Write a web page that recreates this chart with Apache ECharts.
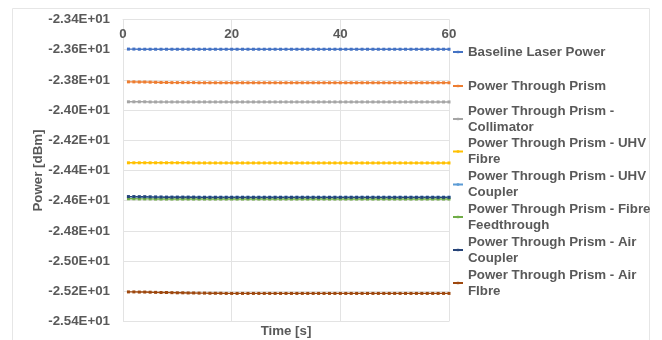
<!DOCTYPE html>
<html>
<head>
<meta charset="utf-8">
<script src="https://cdn.jsdelivr.net/npm/echarts@6/dist/echarts.min.js"></script>
<style>
  html, body { margin: 0; padding: 0; background: #ffffff; }
  #chart { width: 662px; height: 340px; }
</style>
</head>
<body>
<div id="chart"></div>
<script>
// ---- data ----
const timeSec = [1,2,3,4,5,6,7,8,9,10,11,12,13,14,15,16,17,18,19,20,
  21,22,23,24,25,26,27,28,29,30,31,32,33,34,35,36,37,38,39,40,
  41,42,43,44,45,46,47,48,49,50,51,52,53,54,55,56,57,58,59,60];

const seriesNames = [
  'Baseline Laser Power',
  'Power Through Prism',
  'Power Through Prism - Collimator',
  'Power Through Prism - UHV Fibre',
  'Power Through Prism - UHV Coupler',
  'Power Through Prism - Fibre Feedthrough',
  'Power Through Prism - Air Coupler',
  'Power Through Prism - Air FIbre'
];

const legendLines = [
  'Baseline Laser Power',
  'Power Through Prism',
  'Power Through Prism -\nCollimator',
  'Power Through Prism - UHV\nFibre',
  'Power Through Prism - UHV\nCoupler',
  'Power Through Prism - Fibre\nFeedthrough',
  'Power Through Prism - Air\nCoupler',
  'Power Through Prism - Air\nFIbre'
];

const baselinePower = [-23.596,-23.596,-23.597,-23.597,-23.597,-23.597,-23.597,-23.597,-23.597,-23.597,
  -23.597,-23.597,-23.597,-23.597,-23.597,-23.597,-23.597,-23.597,-23.597,-23.597,
  -23.597,-23.597,-23.597,-23.597,-23.597,-23.597,-23.597,-23.597,-23.597,-23.597,
  -23.597,-23.597,-23.597,-23.597,-23.597,-23.597,-23.597,-23.597,-23.597,-23.597,
  -23.597,-23.597,-23.597,-23.597,-23.597,-23.597,-23.597,-23.597,-23.597,-23.597,
  -23.597,-23.597,-23.597,-23.597,-23.597,-23.597,-23.597,-23.597,-23.597,-23.597];

const prismPower = [-23.813,-23.813,-23.814,-23.814,-23.815,-23.816,-23.817,-23.817,-23.818,-23.818,
  -23.818,-23.818,-23.818,-23.819,-23.819,-23.819,-23.819,-23.819,-23.819,-23.819,
  -23.819,-23.819,-23.819,-23.819,-23.819,-23.819,-23.819,-23.819,-23.819,-23.819,
  -23.819,-23.819,-23.819,-23.819,-23.819,-23.819,-23.819,-23.819,-23.819,-23.819,
  -23.819,-23.819,-23.819,-23.819,-23.819,-23.819,-23.819,-23.819,-23.819,-23.819,
  -23.819,-23.819,-23.819,-23.819,-23.819,-23.819,-23.819,-23.819,-23.819,-23.819];

const collimatorPower = [-23.945,-23.945,-23.945,-23.945,-23.946,-23.946,-23.946,-23.946,-23.946,-23.946,
  -23.946,-23.946,-23.946,-23.946,-23.946,-23.946,-23.946,-23.946,-23.946,-23.946,
  -23.946,-23.946,-23.946,-23.946,-23.946,-23.946,-23.946,-23.946,-23.946,-23.946,
  -23.946,-23.946,-23.946,-23.946,-23.946,-23.946,-23.946,-23.946,-23.946,-23.946,
  -23.946,-23.946,-23.946,-23.946,-23.946,-23.946,-23.946,-23.946,-23.946,-23.946,
  -23.946,-23.946,-23.946,-23.946,-23.946,-23.946,-23.946,-23.946,-23.946,-23.946];

const uhvFibrePower = [-24.349,-24.349,-24.349,-24.349,-24.349,-24.349,-24.349,-24.349,-24.349,-24.349,
  -24.349,-24.349,-24.350,-24.350,-24.350,-24.350,-24.350,-24.350,-24.350,-24.350,
  -24.350,-24.350,-24.350,-24.350,-24.350,-24.350,-24.350,-24.350,-24.350,-24.350,
  -24.350,-24.350,-24.350,-24.350,-24.350,-24.350,-24.350,-24.350,-24.350,-24.350,
  -24.350,-24.350,-24.350,-24.350,-24.350,-24.350,-24.350,-24.350,-24.350,-24.350,
  -24.350,-24.350,-24.350,-24.350,-24.350,-24.350,-24.350,-24.350,-24.350,-24.350];

const uhvCouplerPower = [-24.574,-24.574,-24.575,-24.575,-24.576,-24.576,-24.577,-24.577,-24.577,-24.577,
  -24.577,-24.577,-24.577,-24.577,-24.577,-24.577,-24.577,-24.577,-24.577,-24.577,
  -24.577,-24.577,-24.577,-24.577,-24.577,-24.577,-24.577,-24.577,-24.577,-24.577,
  -24.577,-24.577,-24.577,-24.577,-24.577,-24.577,-24.577,-24.577,-24.577,-24.577,
  -24.577,-24.577,-24.577,-24.577,-24.577,-24.577,-24.577,-24.577,-24.577,-24.577,
  -24.577,-24.577,-24.577,-24.577,-24.577,-24.577,-24.577,-24.577,-24.577,-24.577];

const feedthroughPower = [-24.587,-24.587,-24.588,-24.588,-24.588,-24.589,-24.589,-24.589,-24.589,-24.589,
  -24.589,-24.589,-24.589,-24.589,-24.589,-24.589,-24.589,-24.589,-24.589,-24.589,
  -24.589,-24.589,-24.589,-24.589,-24.589,-24.589,-24.589,-24.589,-24.589,-24.589,
  -24.589,-24.589,-24.589,-24.589,-24.589,-24.589,-24.589,-24.589,-24.589,-24.589,
  -24.589,-24.589,-24.589,-24.589,-24.589,-24.589,-24.589,-24.589,-24.589,-24.589,
  -24.589,-24.589,-24.589,-24.589,-24.589,-24.589,-24.589,-24.589,-24.589,-24.589];

const airCouplerPower = [-24.573,-24.573,-24.574,-24.574,-24.575,-24.576,-24.576,-24.577,-24.577,-24.577,
  -24.577,-24.577,-24.577,-24.578,-24.578,-24.578,-24.578,-24.578,-24.578,-24.578,
  -24.578,-24.578,-24.578,-24.578,-24.578,-24.578,-24.578,-24.578,-24.578,-24.578,
  -24.578,-24.578,-24.578,-24.578,-24.578,-24.578,-24.578,-24.578,-24.578,-24.578,
  -24.578,-24.578,-24.578,-24.578,-24.578,-24.578,-24.578,-24.578,-24.578,-24.578,
  -24.578,-24.578,-24.578,-24.578,-24.578,-24.578,-24.578,-24.578,-24.578,-24.578];

const airFibrePower = [-25.204,-25.204,-25.205,-25.205,-25.206,-25.207,-25.208,-25.208,-25.209,-25.210,
  -25.210,-25.211,-25.211,-25.212,-25.212,-25.213,-25.213,-25.213,-25.214,-25.214,
  -25.214,-25.214,-25.214,-25.214,-25.214,-25.214,-25.214,-25.214,-25.214,-25.214,
  -25.214,-25.214,-25.214,-25.214,-25.214,-25.214,-25.214,-25.214,-25.214,-25.214,
  -25.214,-25.214,-25.214,-25.214,-25.214,-25.214,-25.214,-25.214,-25.214,-25.214,
  -25.214,-25.214,-25.214,-25.214,-25.214,-25.214,-25.214,-25.214,-25.214,-25.214];

const seriesValues = [baselinePower, prismPower, collimatorPower, uhvFibrePower,
  uhvCouplerPower, feedthroughPower, airCouplerPower, airFibrePower];

const seriesColors = ['#4472C4','#ED7D31','#A5A5A5','#FFC000','#5B9BD5','#70AD47','#264478','#9E480E'];

const xTicks = [0, 20, 40, 60];
const yMin = -25.4, yMax = -23.4, yStep = 0.2;

// legend first-line centres (layout)
const legendCenters = [52, 86, 119, 151.5, 184.5, 217, 250, 283];

// ---- build chart ----
const FONT = '"Liberation Sans", Arial, sans-serif';
const TXT = '#595959';
const GRIDC = '#e3e3e3';

const chart = echarts.init(document.getElementById('chart'), null, { renderer: 'canvas' });

const series = seriesNames.map((name, i) => ({
  name: name,
  type: 'line',
  xAxisIndex: 0,
  data: timeSec.map((t, k) => [t, seriesValues[i][k]]),
  symbol: 'rect',
  symbolSize: 3,
  showSymbol: true,
  color: seriesColors[i],
  lineStyle: { width: 1.4, color: seriesColors[i] },
  itemStyle: { color: seriesColors[i] },
  animation: false,
  emphasis: { disabled: true }
}));

const legends = seriesNames.map((name, i) => {
  const twoLine = legendLines[i].indexOf('\n') >= 0;
  return {
    orient: 'vertical',
    left: 452,
    top: twoLine ? legendCenters[i] - 24 : legendCenters[i] - 8,
    padding: 0,
    itemWidth: 10,
    itemHeight: 3,
    selectedMode: false,
    data: [name],
    formatter: () => legendLines[i],
    textStyle: {
      fontFamily: FONT, fontWeight: 'bold', fontSize: 13.3, color: TXT,
      lineHeight: 16,
      padding: twoLine ? [16, 0, 0, 0] : 0
    }
  };
});

const option = {
  backgroundColor: '#ffffff',
  animation: false,
  grid: { left: 123, right: 213, top: 19.5, bottom: 18.5, containLabel: false, outerBoundsMode: 'none' },
  legend: legends,
  xAxis: [
    {
      type: 'value',
      position: 'top',
      min: xTicks[0],
      max: xTicks[xTicks.length - 1],
      interval: xTicks[1] - xTicks[0],
      axisLine: { show: true, onZero: false, lineStyle: { color: GRIDC, width: 1 } },
      axisTick: { show: false },
      axisLabel: {
        inside: true, margin: 8,
        fontFamily: FONT, fontWeight: 'bold', fontSize: 13.3, color: TXT
      },
      splitLine: { show: true, lineStyle: { color: GRIDC, width: 1 } }
    },
    {
      type: 'value',
      position: 'bottom',
      min: xTicks[0],
      max: xTicks[xTicks.length - 1],
      name: 'Time [s]',
      nameLocation: 'middle',
      nameGap: 3,
      nameTextStyle: { fontFamily: FONT, fontWeight: 'bold', fontSize: 13.3, color: TXT },
      axisLine: { show: false },
      axisTick: { show: false },
      axisLabel: { show: false },
      splitLine: { show: false }
    }
  ],
  yAxis: {
    type: 'value',
    min: yMin,
    max: yMax,
    interval: yStep,
    name: 'Power [dBm]',
    nameLocation: 'middle',
    nameGap: 77,
    nameTextStyle: { fontFamily: FONT, fontWeight: 'bold', fontSize: 13.3, color: TXT },
    axisLine: { show: false },
    axisTick: { show: false },
    axisLabel: {
      margin: 13,
      fontFamily: FONT, fontWeight: 'bold', fontSize: 13.3, color: TXT,
      formatter: (v) => (v / 10).toFixed(2) + 'E+01'
    },
    splitLine: { show: true, lineStyle: { color: GRIDC, width: 1 } }
  },
  graphic: [
    {
      type: 'rect',
      shape: { x: 12.5, y: 8.5, width: 637, height: 345 },
      style: { fill: 'none', stroke: '#e6e6e6', lineWidth: 1 },
      silent: true,
      z: -10
    }
  ],
  series: series
};

chart.setOption(option);
</script>
</body>
</html>
